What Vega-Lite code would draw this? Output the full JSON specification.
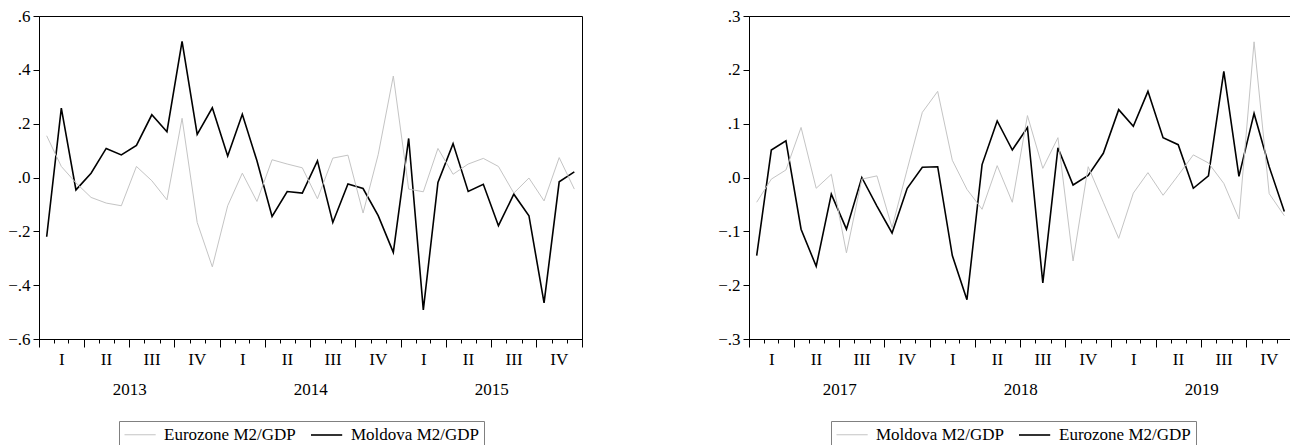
{
  "$schema": "https://vega.github.io/schema/vega-lite/v6.json",
  "background": "white",
  "padding": {"left": 7, "top": 6, "right": 0, "bottom": 0},
  "config": {
    "view": {"stroke": "black", "strokeWidth": 1},
    "font": "Liberation Serif",
    "axis": {"labelFont": "Liberation Serif", "labelFontSize": 17, "labelColor": "black", "tickColor": "black", "domainColor": "black", "grid": false, "title": null, "labelFlush": false, "labelOverlap": false, "tickWidth": 1, "domainWidth": 1},
    "legend": {"labelFont": "Liberation Serif", "labelFontSize": 17, "labelColor": "black", "symbolType": "M-1,0H2.9", "symbolSize": 256, "labelOffset": 23, "columnPadding": 11, "padding": 5, "strokeColor": "#808080", "fillColor": "white", "title": null, "direction": "horizontal", "orient": "none"}
  },
  "datasets": {
    "L": [
      {"date": "2013/01/01", "series": "Moldova M2/GDP", "value": -0.22},
      {"date": "2013/02/01", "series": "Moldova M2/GDP", "value": 0.258},
      {"date": "2013/03/01", "series": "Moldova M2/GDP", "value": -0.046},
      {"date": "2013/04/01", "series": "Moldova M2/GDP", "value": 0.016},
      {"date": "2013/05/01", "series": "Moldova M2/GDP", "value": 0.108},
      {"date": "2013/06/01", "series": "Moldova M2/GDP", "value": 0.084},
      {"date": "2013/07/01", "series": "Moldova M2/GDP", "value": 0.119},
      {"date": "2013/08/01", "series": "Moldova M2/GDP", "value": 0.233},
      {"date": "2013/09/01", "series": "Moldova M2/GDP", "value": 0.17},
      {"date": "2013/10/01", "series": "Moldova M2/GDP", "value": 0.506},
      {"date": "2013/11/01", "series": "Moldova M2/GDP", "value": 0.16},
      {"date": "2013/12/01", "series": "Moldova M2/GDP", "value": 0.259},
      {"date": "2014/01/01", "series": "Moldova M2/GDP", "value": 0.08},
      {"date": "2014/02/01", "series": "Moldova M2/GDP", "value": 0.235},
      {"date": "2014/03/01", "series": "Moldova M2/GDP", "value": 0.062},
      {"date": "2014/04/01", "series": "Moldova M2/GDP", "value": -0.145},
      {"date": "2014/05/01", "series": "Moldova M2/GDP", "value": -0.052},
      {"date": "2014/06/01", "series": "Moldova M2/GDP", "value": -0.058},
      {"date": "2014/07/01", "series": "Moldova M2/GDP", "value": 0.062},
      {"date": "2014/08/01", "series": "Moldova M2/GDP", "value": -0.167},
      {"date": "2014/09/01", "series": "Moldova M2/GDP", "value": -0.024},
      {"date": "2014/10/01", "series": "Moldova M2/GDP", "value": -0.041},
      {"date": "2014/11/01", "series": "Moldova M2/GDP", "value": -0.142},
      {"date": "2014/12/01", "series": "Moldova M2/GDP", "value": -0.278},
      {"date": "2015/01/01", "series": "Moldova M2/GDP", "value": 0.145},
      {"date": "2015/02/01", "series": "Moldova M2/GDP", "value": -0.492},
      {"date": "2015/03/01", "series": "Moldova M2/GDP", "value": -0.018},
      {"date": "2015/04/01", "series": "Moldova M2/GDP", "value": 0.126},
      {"date": "2015/05/01", "series": "Moldova M2/GDP", "value": -0.052},
      {"date": "2015/06/01", "series": "Moldova M2/GDP", "value": -0.025},
      {"date": "2015/07/01", "series": "Moldova M2/GDP", "value": -0.179},
      {"date": "2015/08/01", "series": "Moldova M2/GDP", "value": -0.062},
      {"date": "2015/09/01", "series": "Moldova M2/GDP", "value": -0.142},
      {"date": "2015/10/01", "series": "Moldova M2/GDP", "value": -0.466},
      {"date": "2015/11/01", "series": "Moldova M2/GDP", "value": -0.016},
      {"date": "2015/12/01", "series": "Moldova M2/GDP", "value": 0.021},
      {"date": "2013/01/01", "series": "Eurozone M2/GDP", "value": 0.155},
      {"date": "2013/02/01", "series": "Eurozone M2/GDP", "value": 0.041},
      {"date": "2013/03/01", "series": "Eurozone M2/GDP", "value": -0.02},
      {"date": "2013/04/01", "series": "Eurozone M2/GDP", "value": -0.074},
      {"date": "2013/05/01", "series": "Eurozone M2/GDP", "value": -0.095},
      {"date": "2013/06/01", "series": "Eurozone M2/GDP", "value": -0.105},
      {"date": "2013/07/01", "series": "Eurozone M2/GDP", "value": 0.041},
      {"date": "2013/08/01", "series": "Eurozone M2/GDP", "value": -0.012},
      {"date": "2013/09/01", "series": "Eurozone M2/GDP", "value": -0.083},
      {"date": "2013/10/01", "series": "Eurozone M2/GDP", "value": 0.22},
      {"date": "2013/11/01", "series": "Eurozone M2/GDP", "value": -0.167},
      {"date": "2013/12/01", "series": "Eurozone M2/GDP", "value": -0.332},
      {"date": "2014/01/01", "series": "Eurozone M2/GDP", "value": -0.105},
      {"date": "2014/02/01", "series": "Eurozone M2/GDP", "value": 0.016},
      {"date": "2014/03/01", "series": "Eurozone M2/GDP", "value": -0.089},
      {"date": "2014/04/01", "series": "Eurozone M2/GDP", "value": 0.066},
      {"date": "2014/05/01", "series": "Eurozone M2/GDP", "value": 0.05},
      {"date": "2014/06/01", "series": "Eurozone M2/GDP", "value": 0.036},
      {"date": "2014/07/01", "series": "Eurozone M2/GDP", "value": -0.079},
      {"date": "2014/08/01", "series": "Eurozone M2/GDP", "value": 0.072},
      {"date": "2014/09/01", "series": "Eurozone M2/GDP", "value": 0.083},
      {"date": "2014/10/01", "series": "Eurozone M2/GDP", "value": -0.132},
      {"date": "2014/11/01", "series": "Eurozone M2/GDP", "value": 0.085},
      {"date": "2014/12/01", "series": "Eurozone M2/GDP", "value": 0.377},
      {"date": "2015/01/01", "series": "Eurozone M2/GDP", "value": -0.043},
      {"date": "2015/02/01", "series": "Eurozone M2/GDP", "value": -0.053},
      {"date": "2015/03/01", "series": "Eurozone M2/GDP", "value": 0.108},
      {"date": "2015/04/01", "series": "Eurozone M2/GDP", "value": 0.012},
      {"date": "2015/05/01", "series": "Eurozone M2/GDP", "value": 0.05},
      {"date": "2015/06/01", "series": "Eurozone M2/GDP", "value": 0.071},
      {"date": "2015/07/01", "series": "Eurozone M2/GDP", "value": 0.041},
      {"date": "2015/08/01", "series": "Eurozone M2/GDP", "value": -0.058},
      {"date": "2015/09/01", "series": "Eurozone M2/GDP", "value": -0.002},
      {"date": "2015/10/01", "series": "Eurozone M2/GDP", "value": -0.087},
      {"date": "2015/11/01", "series": "Eurozone M2/GDP", "value": 0.074},
      {"date": "2015/12/01", "series": "Eurozone M2/GDP", "value": -0.043}
    ],
    "R": [
      {"date": "2017/01/01", "series": "Eurozone M2/GDP", "value": -0.145},
      {"date": "2017/02/01", "series": "Eurozone M2/GDP", "value": 0.051},
      {"date": "2017/03/01", "series": "Eurozone M2/GDP", "value": 0.068},
      {"date": "2017/04/01", "series": "Eurozone M2/GDP", "value": -0.096},
      {"date": "2017/05/01", "series": "Eurozone M2/GDP", "value": -0.165},
      {"date": "2017/06/01", "series": "Eurozone M2/GDP", "value": -0.031},
      {"date": "2017/07/01", "series": "Eurozone M2/GDP", "value": -0.096},
      {"date": "2017/08/01", "series": "Eurozone M2/GDP", "value": 0.0},
      {"date": "2017/09/01", "series": "Eurozone M2/GDP", "value": -0.053},
      {"date": "2017/10/01", "series": "Eurozone M2/GDP", "value": -0.103},
      {"date": "2017/11/01", "series": "Eurozone M2/GDP", "value": -0.02},
      {"date": "2017/12/01", "series": "Eurozone M2/GDP", "value": 0.019},
      {"date": "2018/01/01", "series": "Eurozone M2/GDP", "value": 0.02},
      {"date": "2018/02/01", "series": "Eurozone M2/GDP", "value": -0.145},
      {"date": "2018/03/01", "series": "Eurozone M2/GDP", "value": -0.227},
      {"date": "2018/04/01", "series": "Eurozone M2/GDP", "value": 0.024},
      {"date": "2018/05/01", "series": "Eurozone M2/GDP", "value": 0.105},
      {"date": "2018/06/01", "series": "Eurozone M2/GDP", "value": 0.051},
      {"date": "2018/07/01", "series": "Eurozone M2/GDP", "value": 0.093},
      {"date": "2018/08/01", "series": "Eurozone M2/GDP", "value": -0.196},
      {"date": "2018/09/01", "series": "Eurozone M2/GDP", "value": 0.055},
      {"date": "2018/10/01", "series": "Eurozone M2/GDP", "value": -0.014},
      {"date": "2018/11/01", "series": "Eurozone M2/GDP", "value": 0.004},
      {"date": "2018/12/01", "series": "Eurozone M2/GDP", "value": 0.045},
      {"date": "2019/01/01", "series": "Eurozone M2/GDP", "value": 0.126},
      {"date": "2019/02/01", "series": "Eurozone M2/GDP", "value": 0.095},
      {"date": "2019/03/01", "series": "Eurozone M2/GDP", "value": 0.16},
      {"date": "2019/04/01", "series": "Eurozone M2/GDP", "value": 0.074},
      {"date": "2019/05/01", "series": "Eurozone M2/GDP", "value": 0.061},
      {"date": "2019/06/01", "series": "Eurozone M2/GDP", "value": -0.02},
      {"date": "2019/07/01", "series": "Eurozone M2/GDP", "value": 0.003},
      {"date": "2019/08/01", "series": "Eurozone M2/GDP", "value": 0.197},
      {"date": "2019/09/01", "series": "Eurozone M2/GDP", "value": 0.002},
      {"date": "2019/10/01", "series": "Eurozone M2/GDP", "value": 0.119},
      {"date": "2019/11/01", "series": "Eurozone M2/GDP", "value": 0.02},
      {"date": "2019/12/01", "series": "Eurozone M2/GDP", "value": -0.063},
      {"date": "2017/01/01", "series": "Moldova M2/GDP", "value": -0.046},
      {"date": "2017/02/01", "series": "Moldova M2/GDP", "value": -0.003},
      {"date": "2017/03/01", "series": "Moldova M2/GDP", "value": 0.014},
      {"date": "2017/04/01", "series": "Moldova M2/GDP", "value": 0.093},
      {"date": "2017/05/01", "series": "Moldova M2/GDP", "value": -0.02},
      {"date": "2017/06/01", "series": "Moldova M2/GDP", "value": 0.006},
      {"date": "2017/07/01", "series": "Moldova M2/GDP", "value": -0.14},
      {"date": "2017/08/01", "series": "Moldova M2/GDP", "value": -0.003},
      {"date": "2017/09/01", "series": "Moldova M2/GDP", "value": 0.003},
      {"date": "2017/10/01", "series": "Moldova M2/GDP", "value": -0.093},
      {"date": "2017/11/01", "series": "Moldova M2/GDP", "value": 0.015},
      {"date": "2017/12/01", "series": "Moldova M2/GDP", "value": 0.121},
      {"date": "2018/01/01", "series": "Moldova M2/GDP", "value": 0.16},
      {"date": "2018/02/01", "series": "Moldova M2/GDP", "value": 0.032},
      {"date": "2018/03/01", "series": "Moldova M2/GDP", "value": -0.022},
      {"date": "2018/04/01", "series": "Moldova M2/GDP", "value": -0.059},
      {"date": "2018/05/01", "series": "Moldova M2/GDP", "value": 0.022},
      {"date": "2018/06/01", "series": "Moldova M2/GDP", "value": -0.046},
      {"date": "2018/07/01", "series": "Moldova M2/GDP", "value": 0.115},
      {"date": "2018/08/01", "series": "Moldova M2/GDP", "value": 0.017},
      {"date": "2018/09/01", "series": "Moldova M2/GDP", "value": 0.074},
      {"date": "2018/10/01", "series": "Moldova M2/GDP", "value": -0.155},
      {"date": "2018/11/01", "series": "Moldova M2/GDP", "value": 0.02},
      {"date": "2018/12/01", "series": "Moldova M2/GDP", "value": -0.046},
      {"date": "2019/01/01", "series": "Moldova M2/GDP", "value": -0.113},
      {"date": "2019/02/01", "series": "Moldova M2/GDP", "value": -0.029},
      {"date": "2019/03/01", "series": "Moldova M2/GDP", "value": 0.009},
      {"date": "2019/04/01", "series": "Moldova M2/GDP", "value": -0.033},
      {"date": "2019/05/01", "series": "Moldova M2/GDP", "value": 0.004},
      {"date": "2019/06/01", "series": "Moldova M2/GDP", "value": 0.042},
      {"date": "2019/07/01", "series": "Moldova M2/GDP", "value": 0.027},
      {"date": "2019/08/01", "series": "Moldova M2/GDP", "value": -0.011},
      {"date": "2019/09/01", "series": "Moldova M2/GDP", "value": -0.077},
      {"date": "2019/10/01", "series": "Moldova M2/GDP", "value": 0.252},
      {"date": "2019/11/01", "series": "Moldova M2/GDP", "value": -0.03},
      {"date": "2019/12/01", "series": "Moldova M2/GDP", "value": -0.071}
    ]
  },
  "spacing": 134,
  "resolve": {"scale": {"color": "independent", "strokeWidth": "independent"}, "legend": {"color": "independent", "strokeWidth": "independent"}},
  "hconcat": [
    {
      "width": 543,
      "height": 323,
      "data": {"name": "L"},
      "encoding": {
        "y": {"field": "value", "type": "quantitative", "scale": {"domain": [-0.6, 0.6], "nice": false, "zero": false},
              "axis": {"values": [-0.6, -0.4, -0.2, 0, 0.2, 0.4, 0.6], "labelExpr": "replace(format(datum.value, '.1f'), '0.', '.')", "tickSize": 6, "labelPadding": 3}}
      },
      "layer": [
        {"mark": {"type": "line", "strokeOpacity": 0},
         "encoding": {"x": {"field": "date", "type": "temporal", "timeUnit": "yearmonth", "bandPosition": 0.5,
           "scale": {"domain": [{"year": 2013, "month": 1, "date": 1}, {"year": 2016, "month": 1, "date": 1}]},
           "axis": {"orient": "bottom", "tickCount": {"interval": "month", "step": 1}, "tickSize": 4, "labels": false, "domain": true}}}},
        {"mark": {"type": "line", "strokeOpacity": 0},
         "encoding": {"x": {"field": "date", "type": "temporal", "timeUnit": "yearmonth", "bandPosition": 0.5,
           "axis": {"orient": "bottom", "tickCount": {"interval": "month", "step": 3}, "tickSize": 8, "labels": false, "domain": false}}}},
        {"mark": {"type": "line", "strokeOpacity": 0},
         "encoding": {"x": {"field": "date", "type": "temporal", "timeUnit": "yearmonth", "bandPosition": 0.5,
           "axis": {"orient": "bottom", "ticks": false, "domain": false, "labelPadding": 12,
             "values": [{"year": 2013, "month": 2, "date": 15}, {"year": 2013, "month": 5, "date": 16}, {"year": 2013, "month": 8, "date": 16}, {"year": 2013, "month": 11, "date": 15},
                        {"year": 2014, "month": 2, "date": 15}, {"year": 2014, "month": 5, "date": 16}, {"year": 2014, "month": 8, "date": 16}, {"year": 2014, "month": 11, "date": 15},
                        {"year": 2015, "month": 2, "date": 15}, {"year": 2015, "month": 5, "date": 16}, {"year": 2015, "month": 8, "date": 16}, {"year": 2015, "month": 11, "date": 15}],
             "labelExpr": "['I','II','III','IV'][quarter(datum.value) - 1]"}}}},
        {"mark": {"type": "line", "strokeOpacity": 0},
         "encoding": {"x": {"field": "date", "type": "temporal", "timeUnit": "yearmonth", "bandPosition": 0.5,
           "axis": {"orient": "bottom", "ticks": false, "domain": false, "labelPadding": 42,
             "values": [{"year": 2013, "month": 7, "date": 2}, {"year": 2014, "month": 7, "date": 2}, {"year": 2015, "month": 7, "date": 2}],
             "labelExpr": "timeFormat(datum.value, '%Y')"}}}},
        {"mark": {"type": "line"},
         "encoding": {
           "x": {"field": "date", "type": "temporal", "timeUnit": "yearmonth", "bandPosition": 0.5, "axis": null},
           "color": {"field": "series", "type": "nominal", "scale": {"domain": ["Eurozone M2/GDP", "Moldova M2/GDP"], "range": ["#c4c4c4", "#000000"]},
                     "legend": {"orient": "none", "legendX": 80, "legendY": 405, "direction": "horizontal", "title": null}},
           "strokeWidth": {"field": "series", "type": "nominal", "scale": {"domain": ["Eurozone M2/GDP", "Moldova M2/GDP"], "range": [1, 1.6]},
                     "legend": {"orient": "none", "legendX": 80, "legendY": 405, "direction": "horizontal", "title": null}}
         }}
      ],
      "resolve": {"axis": {"x": "independent"}}
    },
    {
      "width": 543,
      "height": 323,
      "data": {"name": "R"},
      "encoding": {
        "y": {"field": "value", "type": "quantitative", "scale": {"domain": [-0.3, 0.3], "nice": false, "zero": false},
              "axis": {"values": [-0.3, -0.2, -0.1, 0, 0.1, 0.2, 0.3], "labelExpr": "replace(format(datum.value, '.1f'), '0.', '.')", "tickSize": 6, "labelPadding": 3}}
      },
      "layer": [
        {"mark": {"type": "line", "strokeOpacity": 0},
         "encoding": {"x": {"field": "date", "type": "temporal", "timeUnit": "yearmonth", "bandPosition": 0.5,
           "scale": {"domain": [{"year": 2017, "month": 1, "date": 1}, {"year": 2020, "month": 1, "date": 1}]},
           "axis": {"orient": "bottom", "tickCount": {"interval": "month", "step": 1}, "tickSize": 4, "labels": false, "domain": true}}}},
        {"mark": {"type": "line", "strokeOpacity": 0},
         "encoding": {"x": {"field": "date", "type": "temporal", "timeUnit": "yearmonth", "bandPosition": 0.5,
           "axis": {"orient": "bottom", "tickCount": {"interval": "month", "step": 3}, "tickSize": 8, "labels": false, "domain": false}}}},
        {"mark": {"type": "line", "strokeOpacity": 0},
         "encoding": {"x": {"field": "date", "type": "temporal", "timeUnit": "yearmonth", "bandPosition": 0.5,
           "axis": {"orient": "bottom", "ticks": false, "domain": false, "labelPadding": 12,
             "values": [{"year": 2017, "month": 2, "date": 15}, {"year": 2017, "month": 5, "date": 16}, {"year": 2017, "month": 8, "date": 16}, {"year": 2017, "month": 11, "date": 15},
                        {"year": 2018, "month": 2, "date": 15}, {"year": 2018, "month": 5, "date": 16}, {"year": 2018, "month": 8, "date": 16}, {"year": 2018, "month": 11, "date": 15},
                        {"year": 2019, "month": 2, "date": 15}, {"year": 2019, "month": 5, "date": 16}, {"year": 2019, "month": 8, "date": 16}, {"year": 2019, "month": 11, "date": 15}],
             "labelExpr": "['I','II','III','IV'][quarter(datum.value) - 1]"}}}},
        {"mark": {"type": "line", "strokeOpacity": 0},
         "encoding": {"x": {"field": "date", "type": "temporal", "timeUnit": "yearmonth", "bandPosition": 0.5,
           "axis": {"orient": "bottom", "ticks": false, "domain": false, "labelPadding": 42,
             "values": [{"year": 2017, "month": 7, "date": 2}, {"year": 2018, "month": 7, "date": 2}, {"year": 2019, "month": 7, "date": 2}],
             "labelExpr": "timeFormat(datum.value, '%Y')"}}}},
        {"mark": {"type": "line"},
         "encoding": {
           "x": {"field": "date", "type": "temporal", "timeUnit": "yearmonth", "bandPosition": 0.5, "axis": null},
           "color": {"field": "series", "type": "nominal", "scale": {"domain": ["Moldova M2/GDP", "Eurozone M2/GDP"], "range": ["#c4c4c4", "#000000"]},
                     "legend": {"orient": "none", "legendX": 82, "legendY": 405, "direction": "horizontal", "title": null}},
           "strokeWidth": {"field": "series", "type": "nominal", "scale": {"domain": ["Moldova M2/GDP", "Eurozone M2/GDP"], "range": [1, 1.6]},
                     "legend": {"orient": "none", "legendX": 82, "legendY": 405, "direction": "horizontal", "title": null}}
         }}
      ],
      "resolve": {"axis": {"x": "independent"}}
    }
  ]
}
